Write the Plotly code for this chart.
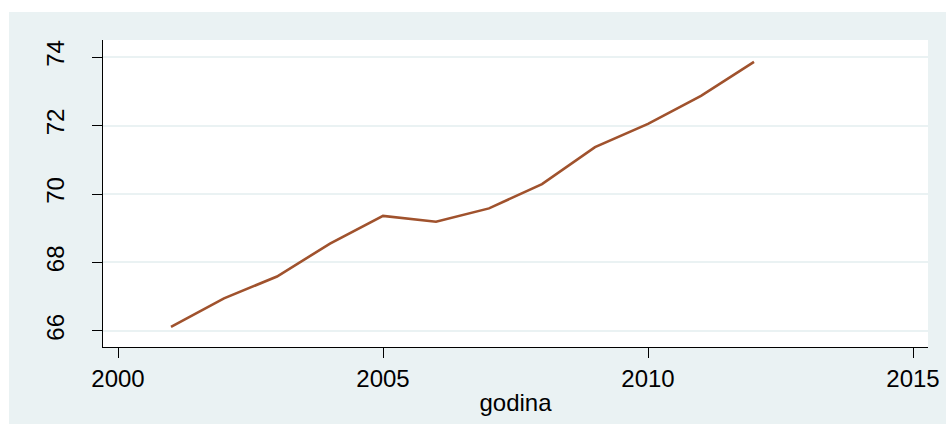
import plotly.graph_objects as go

years = [2001, 2002, 2003, 2004, 2005, 2006, 2007, 2008, 2009, 2010, 2011, 2012]
values = [66.12, 66.95, 67.59, 68.55, 69.36, 69.19, 69.58, 70.29, 71.37, 72.05, 72.87, 73.86]
x_ticks = [2000, 2005, 2010, 2015]
y_ticks = [66, 68, 70, 72, 74]
x_title = "godina"

W, H = 946, 424
ml, mr, mt, mb = 103, 18, 40, 77
pw, ph = W - ml - mr, H - mt - mb

bg = "#EAF2F3"
line_col = "#A0522D"

fig = go.Figure()
fig.add_trace(go.Scatter(x=years, y=values, mode="lines",
                         line=dict(color=line_col, width=2.6),
                         showlegend=False, hoverinfo="skip"))

# white strips at left/top so the light box starts at (9, 12)
fig.add_shape(type="rect", xref="paper", yref="paper", layer="below",
              x0=-ml / pw, x1=(9 - ml) / pw,
              y0=-mb / ph, y1=(ph + mt) / ph,
              fillcolor="white", line=dict(width=0))
fig.add_shape(type="rect", xref="paper", yref="paper", layer="below",
              x0=-ml / pw, x1=(pw + mr) / pw,
              y0=(ph + mt - 12) / ph, y1=(ph + mt) / ph,
              fillcolor="white", line=dict(width=0))

fig.update_layout(
    width=W, height=H,
    margin=dict(l=ml, r=mr, t=mt, b=mb, pad=0, autoexpand=False),
    paper_bgcolor=bg, plot_bgcolor="white",
    font=dict(family="Liberation Sans, Arial, sans-serif", size=24, color="black"),
    xaxis=dict(range=[1999.717, 2015.283], tickvals=x_ticks, automargin=False,
               ticks="outside", ticklen=10, tickwidth=1, tickcolor="black",
               showline=True, linecolor="black", linewidth=1,
               showgrid=False, zeroline=False,
               title=dict(text=x_title, standoff=3, font=dict(size=24))),
    yaxis=dict(range=[65.53, 74.5], tickvals=y_ticks, tickangle=-90, automargin=False,
               ticks="outside", ticklen=10, tickwidth=1, tickcolor="black",
               showline=True, linecolor="black", linewidth=1,
               showgrid=True, gridcolor=bg, gridwidth=2, zeroline=False,
               ticklabelstandoff=18),
)

fig.write_html("out.html",
               config={"displayModeBar": False},
               post_script="document.body.style.margin='0';"
                           "document.body.style.overflow='hidden';")
